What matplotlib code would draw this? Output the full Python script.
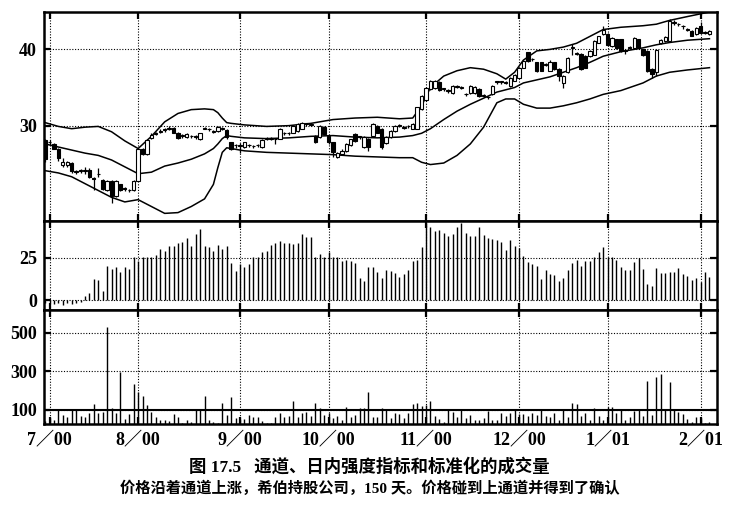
import matplotlib
matplotlib.use('Agg')
import matplotlib.pyplot as plt
import numpy as np

# ---------------- data (trading-day index 0..150) ----------------
open_ = [28.1, 27.9, 27.6, 27.0, 24.9, 24.8, 25.1, 23.9, 24.1, 24.1,
         24.2, 23.1, 23.7, 22.9, 21.6, 22.8, 20.8, 22.3, 21.8, 21.5,
         21.5, 22.8, 27.0, 26.3, 28.4, 28.9, 29.2, 29.4, 29.6, 29.7,
         29.1, 28.7, 28.5, 28.6, 28.6, 28.2, 29.6, 29.5, 29.2, 29.3,
         29.6, 29.4, 27.8, 27.4, 27.3, 27.2, 27.4, 27.3, 27.4, 27.2,
         28.3, 28.3, 28.2, 28.3, 29.0, 29.0, 29.1, 29.3, 29.6, 30.2,
         30.1, 28.7, 28.5, 29.8, 28.7, 27.8, 25.9, 26.3, 26.7, 27.4,
         28.9, 28.5, 27.2, 28.3, 28.7, 30.0, 29.6, 27.7, 28.5, 29.3,
         30.0, 29.7, 29.9, 29.6, 29.6, 32.2, 33.3, 34.8, 34.9, 35.7,
         34.8, 34.6, 34.3, 35.1, 35.0, 34.1, 34.3, 34.3, 34.8, 33.9,
         33.7, 34.1, 35.7, 35.7, 35.6, 35.2, 35.9, 36.3, 37.6, 39.6,
         38.7, 38.3, 38.3, 38.0, 37.2, 38.3, 37.4, 35.6, 37.0, 40.2,
         39.4, 39.4, 39.1, 39.1, 39.3, 40.9, 42.0, 42.0, 40.4, 41.3,
         41.3, 39.8, 40.2, 40.2, 41.3, 40.0, 39.8, 37.4, 37.0, 40.8,
         41.1, 41.1, 43.5, 43.3, 43.0, 42.6, 42.4, 42.0, 43.0, 42.2,
         42.0]
close = [25.6, 27.8, 27.0, 25.7, 25.2, 25.2, 24.0, 24.0, 24.1, 24.2,
         23.3, 23.0, 23.6, 21.7, 22.7, 20.8, 22.7, 21.6, 21.7, 21.5,
         22.8, 27.0, 26.3, 28.1, 28.8, 29.0, 29.3, 29.5, 29.6, 29.1,
         28.4, 28.7, 28.9, 28.6, 28.5, 29.0, 29.6, 29.5, 29.2, 29.8,
         29.6, 28.5, 27.0, 27.4, 27.4, 27.8, 27.4, 27.3, 27.4, 28.1,
         28.3, 28.3, 28.2, 29.6, 29.0, 29.0, 30.0, 30.2, 30.4, 30.2,
         30.1, 27.9, 30.0, 28.9, 27.8, 26.5, 26.4, 26.7, 27.6, 28.2,
         28.0, 28.5, 28.5, 27.2, 30.2, 29.1, 27.2, 28.5, 29.3, 30.0,
         30.0, 29.7, 29.9, 30.2, 32.4, 33.9, 35.0, 35.9, 35.9, 34.7,
         34.8, 34.6, 35.2, 35.1, 35.0, 34.1, 35.2, 35.1, 33.9, 33.9,
         33.7, 35.2, 35.7, 35.7, 35.6, 36.3, 36.7, 37.6, 38.5, 38.5,
         38.7, 37.2, 37.2, 38.0, 38.3, 37.4, 36.5, 36.5, 38.9, 40.2,
         39.4, 37.4, 37.6, 39.8, 41.1, 41.7, 42.6, 40.6, 41.5, 40.2,
         39.8, 39.8, 40.2, 41.5, 40.2, 39.2, 37.2, 36.8, 39.9, 41.2,
         41.6, 43.7, 43.5, 43.3, 43.0, 42.6, 41.8, 42.8, 42.2, 42.2,
         42.4]
high = [28.3, 28.1, 27.7, 27.1, 25.7, 25.4, 25.2, 24.2, 24.3, 24.6,
        24.4, 23.3, 24.5, 23.0, 22.9, 22.9, 22.9, 22.4, 21.9, 21.7,
        22.9, 27.1, 27.1, 28.2, 29.0, 29.2, 29.5, 29.7, 29.9, 29.8,
        29.2, 28.9, 29.0, 28.8, 28.8, 29.1, 29.8, 29.7, 29.4, 29.9,
        29.8, 29.5, 27.9, 27.6, 27.7, 27.9, 27.6, 27.5, 27.6, 28.2,
        28.5, 28.5, 28.4, 29.7, 29.2, 29.2, 30.1, 30.3, 30.5, 30.4,
        30.3, 28.8, 30.1, 29.9, 28.8, 27.9, 26.6, 26.9, 27.7, 28.3,
        29.0, 28.7, 28.6, 28.4, 30.3, 30.1, 29.7, 28.6, 29.4, 30.1,
        30.2, 29.9, 30.1, 30.3, 32.5, 34.0, 35.1, 36.0, 36.0, 35.8,
        35.0, 34.8, 35.3, 35.3, 35.2, 34.3, 35.3, 35.2, 34.9, 34.1,
        33.9, 35.3, 35.9, 35.9, 35.8, 36.4, 36.8, 37.7, 38.6, 39.7,
        38.9, 38.4, 38.4, 38.2, 38.6, 38.4, 37.5, 36.6, 39.0, 40.7,
        39.6, 39.5, 39.2, 39.9, 41.2, 41.8, 43.0, 42.1, 41.6, 41.4,
        41.4, 40.0, 40.4, 41.6, 41.4, 40.1, 39.9, 37.5, 40.0, 41.3,
        41.7, 44.0, 43.8, 43.5, 43.2, 42.8, 42.5, 42.9, 43.6, 42.4,
        42.5]
low = [25.3, 27.5, 26.9, 25.4, 24.6, 24.6, 23.8, 23.7, 23.8, 23.7,
       23.1, 21.5, 23.3, 21.5, 21.4, 19.9, 20.6, 21.4, 21.4, 21.3,
       21.4, 22.7, 26.2, 26.2, 28.3, 28.8, 29.0, 29.2, 29.4, 29.0,
       28.3, 28.4, 28.4, 28.4, 28.3, 28.1, 29.5, 29.3, 29.0, 29.2,
       29.4, 28.3, 26.8, 27.1, 26.4, 27.1, 27.2, 27.1, 27.2, 27.1,
       28.1, 28.1, 27.6, 28.2, 28.8, 28.8, 29.0, 29.2, 29.5, 30.0,
       29.9, 27.7, 28.4, 28.8, 27.6, 25.9, 25.7, 26.2, 26.6, 27.3,
       27.9, 28.3, 27.1, 26.7, 28.6, 29.0, 27.0, 27.6, 28.4, 29.2,
       29.8, 29.5, 29.7, 29.5, 29.5, 32.1, 33.2, 34.7, 34.8, 34.6,
       34.6, 34.3, 34.2, 34.9, 34.8, 33.9, 34.2, 34.2, 33.8, 33.7,
       33.5, 34.0, 35.5, 35.5, 35.4, 35.1, 35.8, 36.2, 37.5, 38.4,
       38.5, 37.0, 37.1, 37.8, 37.1, 37.3, 35.9, 35.0, 36.9, 39.3,
       39.2, 37.3, 37.5, 39.0, 39.2, 40.8, 41.9, 40.5, 40.3, 40.1,
       39.7, 39.4, 40.0, 40.1, 40.1, 39.1, 37.0, 36.3, 36.5, 40.7,
       41.0, 41.0, 43.2, 43.0, 42.7, 42.4, 41.7, 41.9, 42.1, 42.0,
       41.9]

# channel (band) values read at selected days
band_day = [0, 3, 6, 9, 12, 15, 18, 21, 24, 27, 30, 33, 36, 38, 39, 40, 41, 42, 45, 50,
            55, 60, 65, 70, 75, 80, 83, 85, 87, 90, 93, 96, 99, 102, 104, 106, 108, 111, 114, 117,
            120, 123, 126, 130, 135, 138, 141, 145, 150]
band_upper = [30.4, 29.9, 29.6, 29.8, 29.9, 29.2, 28.0, 27.0, 28.6, 30.5,
              31.6, 32.1, 32.2, 32.1, 31.7, 31.0, 30.4, 30.3, 30.1, 29.9,
              30.0, 30.3, 30.8, 31.0, 31.1, 30.9, 31.0, 32.6, 35.0, 36.5,
              37.2, 37.6, 37.4, 36.8, 36.1, 37.0, 38.6, 39.8, 40.0, 40.3,
              40.8, 41.7, 42.6, 42.9, 43.1, 43.3, 43.8, 44.3, 44.9]
band_mid = [27.6, 27.2, 26.8, 26.4, 26.1, 25.5, 24.6, 23.7, 23.9, 24.7,
            25.1, 25.6, 26.3, 27.0, 27.6, 28.3, 28.7, 28.6, 28.4, 28.3,
            28.4, 28.6, 28.7, 28.5, 28.4, 28.5, 28.7, 29.0, 29.6, 30.8,
            31.9, 32.8, 33.6, 34.4, 34.7, 35.0, 35.6, 36.0, 36.4, 37.0,
            37.6, 38.3, 39.1, 39.7, 40.2, 40.6, 40.9, 41.2, 41.4]
band_lower = [24.1, 23.8, 23.3, 22.4, 21.5, 20.6, 20.0, 20.3, 19.4, 18.5,
              18.6, 19.4, 20.4, 22.3, 24.5, 26.5, 27.1, 27.0, 26.7, 26.5,
              26.4, 26.3, 26.2, 26.0, 25.9, 25.8, 25.8, 25.2, 24.9, 25.1,
              26.1, 27.6, 29.8, 33.0, 33.5, 33.5, 32.8, 32.3, 32.3, 32.6,
              33.0, 33.5, 34.1, 34.6, 35.6, 36.5, 37.0, 37.3, 37.6]

intensity = [-1.5, -2.0, -2.5, -1.5, -3.0, -2.0, -2.5, -1.5, -1.0, 2.3,
             3.9, 12.7, 11.7, 5.5, 20.5, 18.6, 19.5, 16.6, 19.5, 18.6,
             25.8, 22.9, 25.4, 25.8, 25.8, 26.8, 30.3, 29.3, 32.2, 32.2,
             33.6, 34.2, 37.1, 32.2, 39.1, 42.0, 32.2, 31.3, 29.3, 32.8,
             30.3, 32.2, 21.9, 17.2, 21.5, 19.9, 21.5, 25.4, 25.4, 28.3,
             28.9, 32.8, 33.6, 34.8, 33.6, 34.0, 33.2, 34.0, 39.1, 37.7,
             37.5, 25.4, 27.3, 25.4, 28.3, 25.4, 25.4, 23.0, 23.8, 23.0,
             21.9, 13.3, 11.3, 19.5, 19.5, 16.6, 13.3, 17.6, 17.2, 16.2,
             13.7, 15.6, 17.6, 23.0, 23.8, 31.3, 46.0, 43.4, 41.0, 41.4,
             39.5, 38.1, 39.1, 43.4, 45.9, 40.0, 38.1, 38.1, 43.4, 38.7,
             36.7, 36.1, 35.5, 34.2, 29.7, 35.5, 32.2, 31.0, 26.4, 22.5,
             21.5, 20.5, 12.7, 17.6, 15.6, 14.6, 11.3, 13.3, 17.6, 21.9,
             23.8, 20.5, 23.0, 23.0, 25.8, 28.3, 31.6, 25.5, 25.8, 23.8,
             19.5, 17.6, 17.6, 22.5, 25.0, 18.6, 9.8, 8.2, 19.1, 16.0,
             16.0, 16.6, 16.6, 19.1, 15.2, 14.1, 11.7, 13.3, 11.0, 16.6,
             13.7]

norm_volume = [45, 57, 48, 100, 74, 62, 103, 107, 69, 66,
               86, 129, 86, 91, 528, 109, 86, 298, 52, 79,
               234, 195, 172, 126, 91, 66, 48, 48, 45, 79,
               62, 34, 48, 40, 103, 100, 172, 48, 40, 34,
               138, 74, 166, 57, 52, 52, 74, 66, 66, 45,
               34, 34, 66, 83, 66, 69, 148, 62, 83, 91,
               69, 138, 109, 74, 83, 57, 69, 48, 114, 66,
               74, 109, 109, 195, 66, 62, 109, 103, 57, 83,
               79, 57, 83, 131, 138, 121, 126, 148, 69, 52,
               40, 100, 91, 66, 100, 57, 74, 48, 48, 57,
               97, 48, 48, 83, 69, 83, 100, 79, 79, 69,
               83, 74, 103, 69, 66, 83, 48, 103, 66, 138,
               131, 69, 86, 48, 109, 69, 48, 117, 114, 83,
               100, 48, 66, 97, 100, 69, 252, 74, 269, 286,
               100, 247, 100, 91, 79, 52, 40, 66, 57, 34,
               40]

month_day = [1, 21, 44, 64, 86, 107, 127, 148]
month_labels = ['7／00', '8／00', '9／00', '10／00', '11／00', '12／00', '1／01', '2／01']

title_line1 = '图 17.5   通道、日内强度指标和标准化的成交量'
title_line2 = '价格沿着通道上涨，希伯持股公司，150 天。价格碰到上通道并得到了确认'

# ---------------- figure ----------------
W, H = 739, 514
fig = plt.figure(figsize=(W / 100, H / 100), dpi=100)
fig.patch.set_facecolor('white')

left = 44 / W
width = (717 - 44) / W

def frac(y0, y1):
    return [left, 1 - y1 / H, width, (y1 - y0) / H]

ax1 = fig.add_axes(frac(12, 221))
ax2 = fig.add_axes(frac(221, 310))
ax3 = fig.add_axes(frac(310, 424))

tick_font = dict(family=['Liberation Serif', 'Noto Sans CJK SC'], size=13, weight='bold')

days = np.arange(len(close))
o = np.array(open_); c = np.array(close); h = np.array(high); l = np.array(low)

# candles
ax1.vlines(days, l, h, color='black', lw=0.9, zorder=3)
up = c >= o
bot = np.minimum(o, c)
hgt = np.maximum(np.abs(c - o), 0.09)
ax1.bar(days[up], hgt[up], bottom=bot[up], width=0.75, color='white',
        edgecolor='black', linewidth=0.8, zorder=4)
ax1.bar(days[~up], hgt[~up], bottom=bot[~up], width=0.75, color='black',
        edgecolor='black', linewidth=0.8, zorder=4)

for band in (band_upper, band_mid, band_lower):
    ax1.plot(band_day, band, color='black', lw=1.1, zorder=2)

ax1.set_ylim(17.5, 44.9)
ax1.set_yticks([30, 40])

# intraday intensity
ax2.vlines(days, 0, intensity, color='black', lw=1.0, zorder=3)
ax2.set_ylim(-5.9, 46.9)
ax2.set_yticks([0, 25])

# normalized volume
ax3.vlines(days, 0, norm_volume, color='black', lw=1.0, zorder=3)
ax3.axhline(100, color='black', lw=1.5, zorder=4)
ax3.set_ylim(27.6, 617)
ax3.set_yticks([100, 300, 500])

for ax in (ax1, ax2, ax3):
    ax.set_xlim(-0.25, 151.7)
    ax.set_xticks(month_day)
    ax.grid(True, which='major', color='black', linestyle=(0, (1, 1.5)), lw=0.8)
    ax.set_axisbelow(True)
    ax.tick_params(axis='both', direction='in', length=5, width=1.6,
                   top=True, right=True, bottom=True, left=True)
    for s in ax.spines.values():
        s.set_linewidth(1.8)
    for lab in ax.get_yticklabels():
        lab.set_fontproperties(None)
    ax.set_yticklabels([str(int(t)) for t in ax.get_yticks()], **tick_font)
    if ax is ax3:
        ax.set_xticklabels(month_labels, **tick_font)
    else:
        ax.set_xticklabels([])
    ax.tick_params(axis='y', pad=5)
    ax.tick_params(axis='x', pad=6)

fig.text(0.5, 1 - 467 / H, title_line1, ha='center', va='center',
         family=['Liberation Serif', 'Noto Sans CJK SC'], size=12.5, weight='bold')
fig.text(0.5, 1 - 488 / H, title_line2, ha='center', va='center',
         family=['Liberation Serif', 'Noto Sans CJK SC'], size=11, weight='bold')

fig.savefig('out.png', dpi=100, facecolor='white')
